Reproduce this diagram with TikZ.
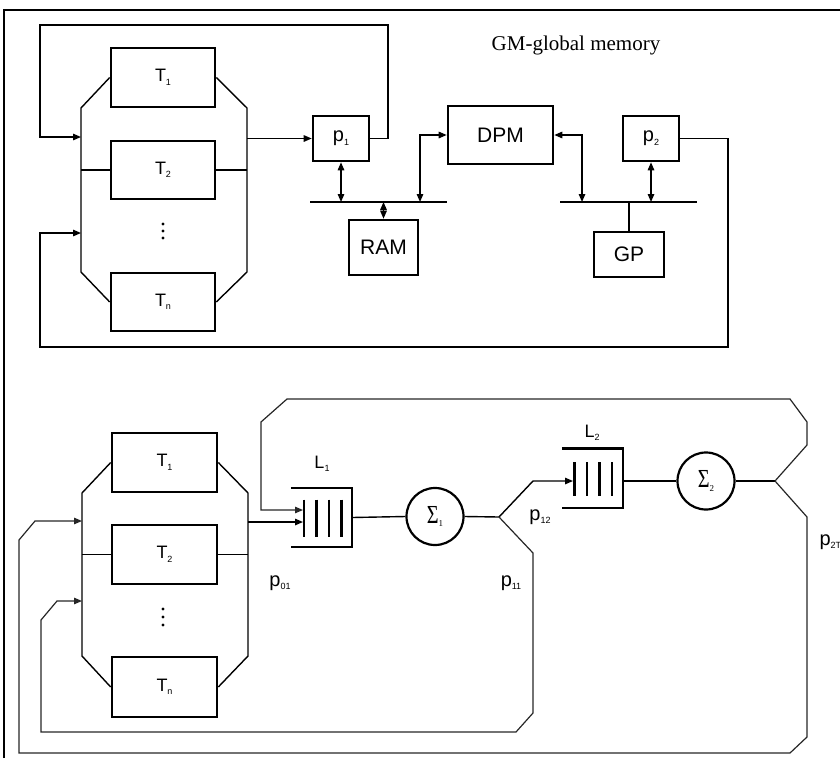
\documentclass[tikz,border=0pt]{standalone}
\usepackage{fontspec}
\setmainfont{Liberation Serif}
\setsansfont{Liberation Sans}
\usetikzlibrary{arrows.meta,calc}
\newcommand{\sbs}[1]{\raisebox{-3.5pt}{\fontsize{9}{9}\selectfont #1}}
\newcommand{\sgm}[1]{\scalebox{0.78}[1]{\fontsize{26}{26}\selectfont Σ}\sbs{#1}}
\begin{document}
\begin{tikzpicture}[x=1pt,y=-1pt,
  lbl/.style={font=\sffamily\fontsize{18}{20}\selectfont},
  plbl/.style={font=\sffamily\fontsize{20}{22}\selectfont},
  tbox/.style={draw, line width=2.6pt, minimum width=104pt, minimum height=59pt, inner sep=0pt, lbl},
  pbox/.style={draw, line width=2.6pt, minimum width=56pt, minimum height=45pt, inner sep=0pt, plbl},
  bbox/.style={draw, line width=2.6pt, inner sep=0pt, font=\sffamily\fontsize{21}{23}\selectfont},
  qbox/.style={minimum width=61pt, minimum height=59pt, inner sep=0pt},
  sig/.style={draw, circle, line width=2.2pt, minimum size=57pt, inner sep=0pt},
  conn/.style={line width=1.4pt, line join=miter},
  loop/.style={line width=1.2pt, draw=black!85, line join=miter},
  busl/.style={line width=2.8pt},
  qline/.style={line width=2.4pt},
  arr/.style={-{Triangle[length=8pt,width=6.5pt]}},
  darr/.style={{Triangle[length=8pt,width=6.5pt]}-{Triangle[length=8pt,width=6.5pt]}}
]
\useasboundingbox (0,0) rectangle (840,758);
% frame
\draw[line width=1.2pt] (4,758) -- (4,10) -- (842,10);

% ---------------- top section ----------------
\node[font=\rmfamily\fontsize{21}{23}\selectfont] (gm) at (576,45) {GM-global memory};

\node[tbox] (t1) at (163,77.5) {T\sbs{1}};
\node[tbox, minimum height=58pt] (t2) at (163,170) {T\sbs{2}};
\node[tbox, minimum height=58pt] (tn) at (163,302) {T\sbs{n}};
\foreach \yy in {224,231,238} \fill (163,\yy) circle (1.6pt);

\coordinate (lbt) at (81,108);
\coordinate (lbb) at (81,272);
\coordinate (rbt) at (247,108);
\coordinate (rbb) at (247,272);
\draw[conn] (t1.west) -- (lbt) -- (lbb) -- (tn.west);
\draw[conn] (t1.east) -- (rbt) -- (rbb) -- (tn.east);
\draw[conn] (81,170) -- (t2.west);
\draw[conn] (t2.east) -- (247,170);

\node[pbox] (p1) at (341,138.5) {p\sbs{1}};
\node[pbox] (p2) at (651,138.5) {p\sbs{2}};
\node[bbox, minimum width=105pt, minimum height=58pt] (dpm) at (500.5,135) {DPM};
\node[bbox, minimum width=69pt, minimum height=55pt] (ram) at (383.5,247.5) {RAM};
\node[bbox, minimum width=70pt, minimum height=45pt] (gp) at (629,254.5) {GP};

\coordinate (b1l) at (310,202);
\coordinate (b1r) at (447,202);
\coordinate (b2l) at (560,202);
\coordinate (b2r) at (697,202);
\draw[busl] (b1l) -- (b1r);
\draw[busl] (b2l) -- (b2r);

\draw[conn,arr] (247,138.5) -- (p1.west);
\draw[conn,arr] (p1.east) -- (388,138.5) -- (388,25) -- (40,25) -- (40,137) -- (81,137);
\draw[conn,arr] (p2.east) -- (728,138.5) -- (728,347) -- (40,347) -- (40,233) -- (81,233);

\draw[conn,darr] (p1.south) -- (p1.south |- b1l);
\draw[conn,darr] (ram.north) -- (ram.north |- b1l);
\draw[conn,darr] (420,202) |- (dpm.west);
\draw[conn,darr] (dpm.east) -| (582,202);
\draw[conn,darr] (p2.south) -- (p2.south |- b2l);
\draw[conn] (gp.north) -- (gp.north |- b2l);

% ---------------- bottom section ----------------
\node[tbox, minimum width=105pt] (bt1) at (164.5,462.5) {T\sbs{1}};
\node[tbox, minimum width=105pt] (bt2) at (164.5,554.5) {T\sbs{2}};
\node[tbox, minimum width=105pt, minimum height=60pt] (btn) at (164.5,687) {T\sbs{n}};
\foreach \yy in {609,617,625} \fill (163,\yy) circle (1.6pt);

\coordinate (blt) at (82,493);
\coordinate (blb) at (82,656);
\coordinate (brt) at (248,493);
\coordinate (brb) at (248,656);
\draw[conn] (bt1.west) -- (blt) -- (blb) -- (btn.west);
\draw[conn] (bt1.east) -- (brt) -- (brb) -- (btn.east);
\draw[conn] (82,554.5) -- (bt2.west);
\draw[conn] (bt2.east) -- (248,554.5);

% queue L1
\node[qbox] (l1) at (321.5,517.5) {};
\draw[qline] (l1.north west) -- (l1.north east) -- (l1.south east) -- (l1.south west);
\foreach \dx in {13,25.5,38,50.5}
  \draw[qline] ($(l1.west)+(\dx,-18)$) -- ($(l1.west)+(\dx,19)$);
\node[lbl] (l1t) at (322,464) {L\sbs{1}};

% queue L2
\node[qbox] (l2) at (592.5,478) {};
\draw[qline] (l2.north west) -- (l2.north east) -- (l2.south east) -- (l2.south west);
\foreach \dx in {12.5,25,37.5,50}
  \draw[qline] ($(l2.west)+(\dx,-16)$) -- ($(l2.west)+(\dx,18)$);
\node[lbl] (l2t) at (592,433) {L\sbs{2}};

% sums
\node[sig] (s1) at (435,516.5) {\sgm{1}};
\node[sig] (s2) at (706,481) {\sgm{2}};

\coordinate (j1) at (499,517);
\coordinate (j2) at (775,481);

\draw[conn,arr] (248,522) -- (303,522);
\draw[conn] (l1.east) -- (s1.west);
\draw[conn] (s1.east) -- (j1);
\draw[conn,arr] (j1) -- (533,481) -- (573,481);
\draw[conn] (623,481) -- (s2.west);
\draw[conn] (s2.east) -- (j2);

% loops
\draw[loop,arr] (j2) -- (807,445) -- (807,422) -- (790,399) -- (287,399) -- (261,422) -- (261,510) -- (303,510);
\draw[loop,arr] (j2) -- (807,517) -- (807,737) -- (790,753) -- (19,753) -- (19,540) -- (35,521) -- (82,521);
\draw[loop,arr] (j1) -- (533,553) -- (533,713) -- (516,732) -- (41,732) -- (41,620) -- (57,601) -- (82,601);

% labels
\node[plbl] (p01) at (280,583) {p\sbs{01}};
\node[plbl] (p11) at (511,583) {p\sbs{11}};
\node[plbl] (p12) at (540,517) {p\sbs{12}};
\node[plbl, anchor=west] (p2t) at (816,542) {p\sbs{2T}};
\end{tikzpicture}
\end{document}
